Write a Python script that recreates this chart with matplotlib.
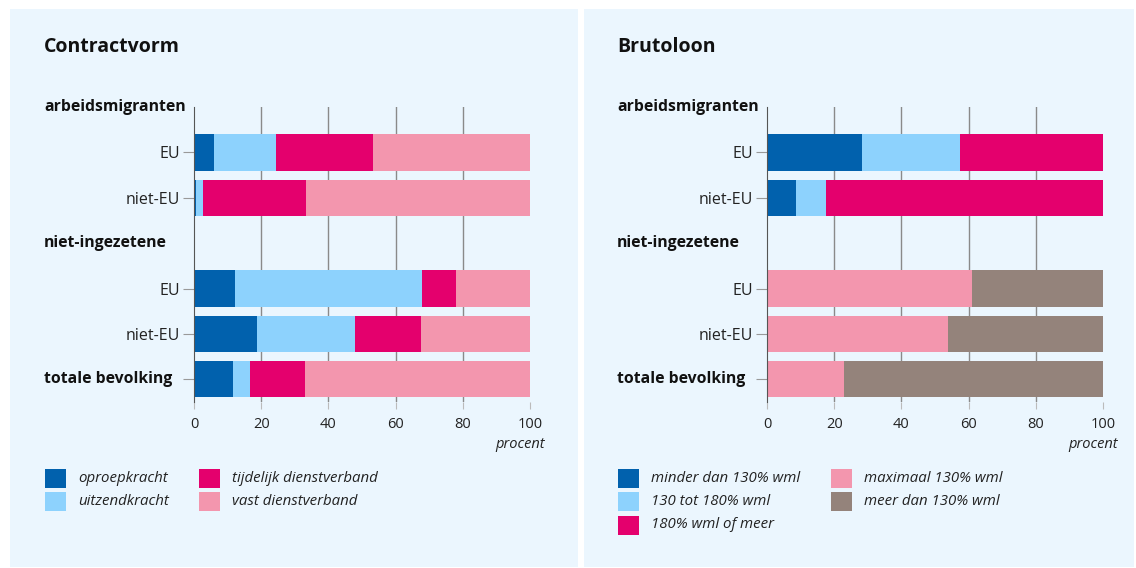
import matplotlib.pyplot as plt
import matplotlib.transforms as mtransforms
from matplotlib.patches import Rectangle
import numpy as np

plt.rcParams['font.family'] = ['Open Sans', 'DejaVu Sans']

# row layout: header rows carry no bar
row_labels = ['arbeidsmigranten', 'EU', 'niet-EU', 'niet-ingezetene', 'EU', 'niet-EU', 'totale bevolking']
header_rows = [0, 3]
bar_rows = [1, 2, 4, 5, 6]

# Contractvorm (procent), per bar row
contract_names = ['oproepkracht', 'uitzendkracht', 'tijdelijk dienstverband', 'vast dienstverband']
oproepkracht = [6.0, 0.7, 12.3, 18.8, 11.7]
uitzendkracht = [18.4, 2.1, 55.7, 29.1, 5.0]
tijdelijk = [28.9, 30.6, 10.1, 19.6, 16.2]
vast = [46.7, 66.6, 21.9, 32.5, 67.1]

# Brutoloon (procent), per bar row
loon_names = ['minder dan 130% wml', '130 tot 180% wml', '180% wml of meer',
              'maximaal 130% wml', 'meer dan 130% wml']
minder_130 = [28.4, 8.5, 0, 0, 0]
tot_180 = [29.1, 9.2, 0, 0, 0]
meer_180 = [42.5, 82.3, 0, 0, 0]
max_130 = [0, 0, 60.9, 53.8, 22.9]
boven_130 = [0, 0, 39.1, 46.2, 77.1]

c_dblue = '#0161AD'
c_lblue = '#8DD2FD'
c_mag = '#E4006D'
c_pink = '#F396AE'
c_brown = '#94837B'
bg = '#EBF6FE'

W, H = 1136, 568
fig = plt.figure(figsize=(W / 100, H / 100), dpi=100)
fig.patch.set_facecolor('white')


def px(x, y):
    return x / W, 1 - y / H


# panel backgrounds
for x0, x1 in [(10, 578), (584, 1134)]:
    fig.add_artist(Rectangle(px(x0, 567), (x1 - x0) / W, 558 / H,
                             transform=fig.transFigure, facecolor=bg, edgecolor='none', zorder=0))


def draw_panel(ax_left, title, title_x, series, colors, names, legend_x, legend_cols):
    ax = fig.add_axes([ax_left / W, 1 - 402 / H, 336 / W, 295 / H])
    ax.set_facecolor('none')
    left = np.zeros(len(bar_rows))
    for vals, col in zip(series, colors):
        ax.barh(bar_rows, vals, left=left, height=0.8, color=col, zorder=3)
        left = left + np.array(vals)
    ax.set_xlim(0, 100)
    ax.set_ylim(6.5, 0)
    ax.set_xticks([0, 20, 40, 60, 80, 100])
    ax.tick_params(axis='x', length=5, color='#bbbbbb', pad=6, labelsize=10.5, labelcolor='#222222')
    ax.set_yticks(bar_rows)
    ax.set_yticklabels(['EU', 'niet-EU', 'EU', 'niet-EU', ''])
    ax.tick_params(axis='y', length=8, color='#999999', pad=2, labelsize=11.5, labelcolor='#222222')
    for s in ['top', 'right', 'bottom']:
        ax.spines[s].set_visible(False)
    ax.spines['left'].set_color('#555555')
    ax.spines['left'].set_zorder(4)
    for g in [20, 40, 60, 80]:
        ax.axvline(g, color='#8a8a8a', lw=1, zorder=1)
    trans = mtransforms.blended_transform_factory(fig.transFigure, ax.transData)
    for r in header_rows + [6]:
        ax.text(title_x / W, r, row_labels[r], transform=trans, ha='left', va='center',
                fontsize=11.3, fontweight='bold', color='#111111')
    fig.text(title_x / W, 1 - 47 / H, title, ha='left', va='center', fontsize=14,
             fontweight='bold', color='#111111')
    fig.text((ax_left + 351) / W, 1 - 445 / H, 'procent', ha='right', va='center',
             fontsize=10.5, style='italic', color='#222222')
    # legend
    i = 0
    for ci, ncol in enumerate(legend_cols):
        for ri in range(ncol):
            lx = legend_x[ci]
            ly = 478 + ri * 23.5
            fig.add_artist(Rectangle(px(lx, ly + 9.5), 21 / W, 19 / H, transform=fig.transFigure,
                                     facecolor=colors[i], edgecolor='none'))
            fig.text((lx + 33) / W, 1 - ly / H, names[i], ha='left', va='center',
                     fontsize=10.8, style='italic', color='#222222')
            i += 1
    return ax


draw_panel(194, 'Contractvorm', 44,
           [oproepkracht, uitzendkracht, tijdelijk, vast],
           [c_dblue, c_lblue, c_mag, c_pink], contract_names, [45, 199], [2, 2])
draw_panel(767, 'Brutoloon', 617,
           [minder_130, tot_180, meer_180, max_130, boven_130],
           [c_dblue, c_lblue, c_mag, c_pink, c_brown], loon_names, [618, 831], [3, 2])

fig.savefig('out.png', dpi=100, facecolor='white')
